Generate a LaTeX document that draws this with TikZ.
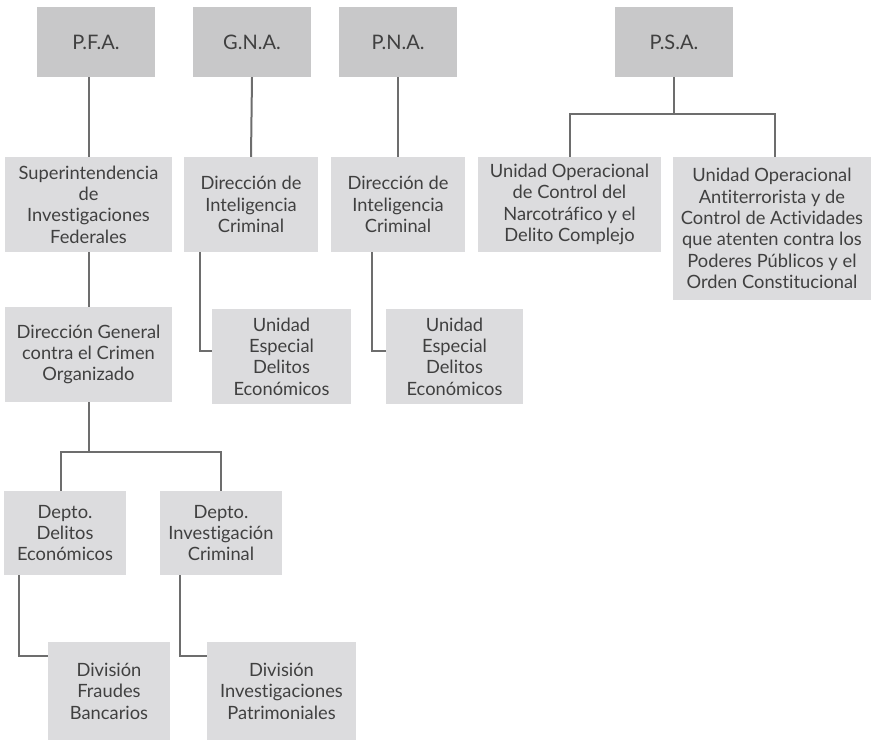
\documentclass[tikz,border=0pt]{standalone}
\usepackage{fontspec}
\setmainfont{Lato}[Ligatures=NoCommon]
\usetikzlibrary{calc}
\definecolor{topgray}{HTML}{C8C8C9}
\definecolor{boxgray}{HTML}{DCDCDE}
\definecolor{linegray}{HTML}{6D6D6D}
\definecolor{txt}{HTML}{404040}
\begin{document}
\begin{tikzpicture}[x=1pt,y=-1pt,
  topbox/.style={fill=topgray,inner sep=0pt,minimum width=118pt,minimum height=70pt,text=txt,font=\fontsize{20}{24}\selectfont},
  unitbox/.style={fill=boxgray,inner sep=0pt,text=txt,align=center,font=\fontsize{18.3}{21.4}\selectfont},
  link/.style={draw=linegray,line width=2pt}]
\useasboundingbox (0,0) rectangle (871,741);
% top level
\node[topbox] (pfa) at (96,42) {P.F.A.};
\node[topbox] (gna) at (252,42) {G.N.A.};
\node[topbox] (pna) at (398,42) {P.N.A.};
\node[topbox] (psa) at (674,42) {P.S.A.};
% second level
\node[unitbox,minimum width=167pt,minimum height=95pt] (sup) at (88.5,204.5) {Superintendencia\\de\\Investigaciones\\Federales};
\node[unitbox,minimum width=134pt,minimum height=95pt] (dirgna) at (251,204.5) {Dirección de\\Inteligencia\\Criminal};
\node[unitbox,minimum width=134pt,minimum height=95pt] (dirpna) at (398,204.5) {Dirección de\\Inteligencia\\Criminal};
\node[unitbox,minimum width=183pt,minimum height=95pt] (uo1) at (569.5,204.5) {Unidad Operacional\\de Control del\\Narcotráfico y el\\Delito Complejo};
\node[unitbox,minimum width=198pt,minimum height=143pt] (uo2) at (772,228.5) {Unidad Operacional\\Antiterrorista y de\\Control de Actividades\\que atenten contra los\\Poderes Públicos y el\\Orden Constitucional};
% third level
\node[unitbox,minimum width=139pt,minimum height=95pt] (uegna) at (281.5,356.5) {Unidad\\Especial\\Delitos\\Económicos};
\node[unitbox,minimum width=137pt,minimum height=95pt] (uepna) at (454.5,356.5) {Unidad\\Especial\\Delitos\\Económicos};
\node[unitbox,minimum width=167pt,minimum height=95pt] (dirgen) at (88.5,354.5) {Dirección General\\contra el Crimen\\Organizado};
% fourth level
\node[unitbox,minimum width=122pt,minimum height=84pt] (deptodel) at (65,533) {Depto.\\Delitos\\Económicos};
\node[unitbox,minimum width=122pt,minimum height=84pt] (deptoinv) at (221,533) {Depto.\\Investigación\\Criminal};
% fifth level
\node[unitbox,minimum width=122pt,minimum height=98pt] (divfra) at (109,691) {División\\Fraudes\\Bancarios};
\node[unitbox,minimum width=149pt,minimum height=98pt] (divinv) at (281.5,691) {División\\Investigaciones\\Patrimoniales};
% junctions
\coordinate (jdg) at (88,452);
\coordinate (jpsa) at (672,114);
% connectors
\draw[link] (sup.north |- pfa.south) -- (sup.north);
\draw[link] (gna.south) -- (dirgna.north);
\draw[link] (pna.south) -- (dirpna.north);
\draw[link] ($(dirgna.south west)+(16,0)$) |- ($(uegna.west)+(0,-5.5)$);
\draw[link] ($(dirpna.south west)+(41,0)$) |- ($(uepna.west)+(0,-5.5)$);
\draw[link] (sup.south) -- (dirgen.north);
\draw[link] (dirgen.south) -- (dirgen.south |- jdg);
\draw[link] ($(deptodel.north)+(-4,0)$) |- (jdg) -| (deptoinv.north);
\draw[link] ($(deptodel.south west)+(15,0)$) |- ($(divfra.north west)+(0,14)$);
\draw[link] ($(deptoinv.south west)+(20,0)$) |- ($(divinv.north west)+(0,14)$);
\draw[link] (psa.south) -- (psa.south |- jpsa);
\draw[link] (uo1.north) |- (jpsa) -| ($(uo2.north)+(3,0)$);
\end{tikzpicture}
\end{document}
